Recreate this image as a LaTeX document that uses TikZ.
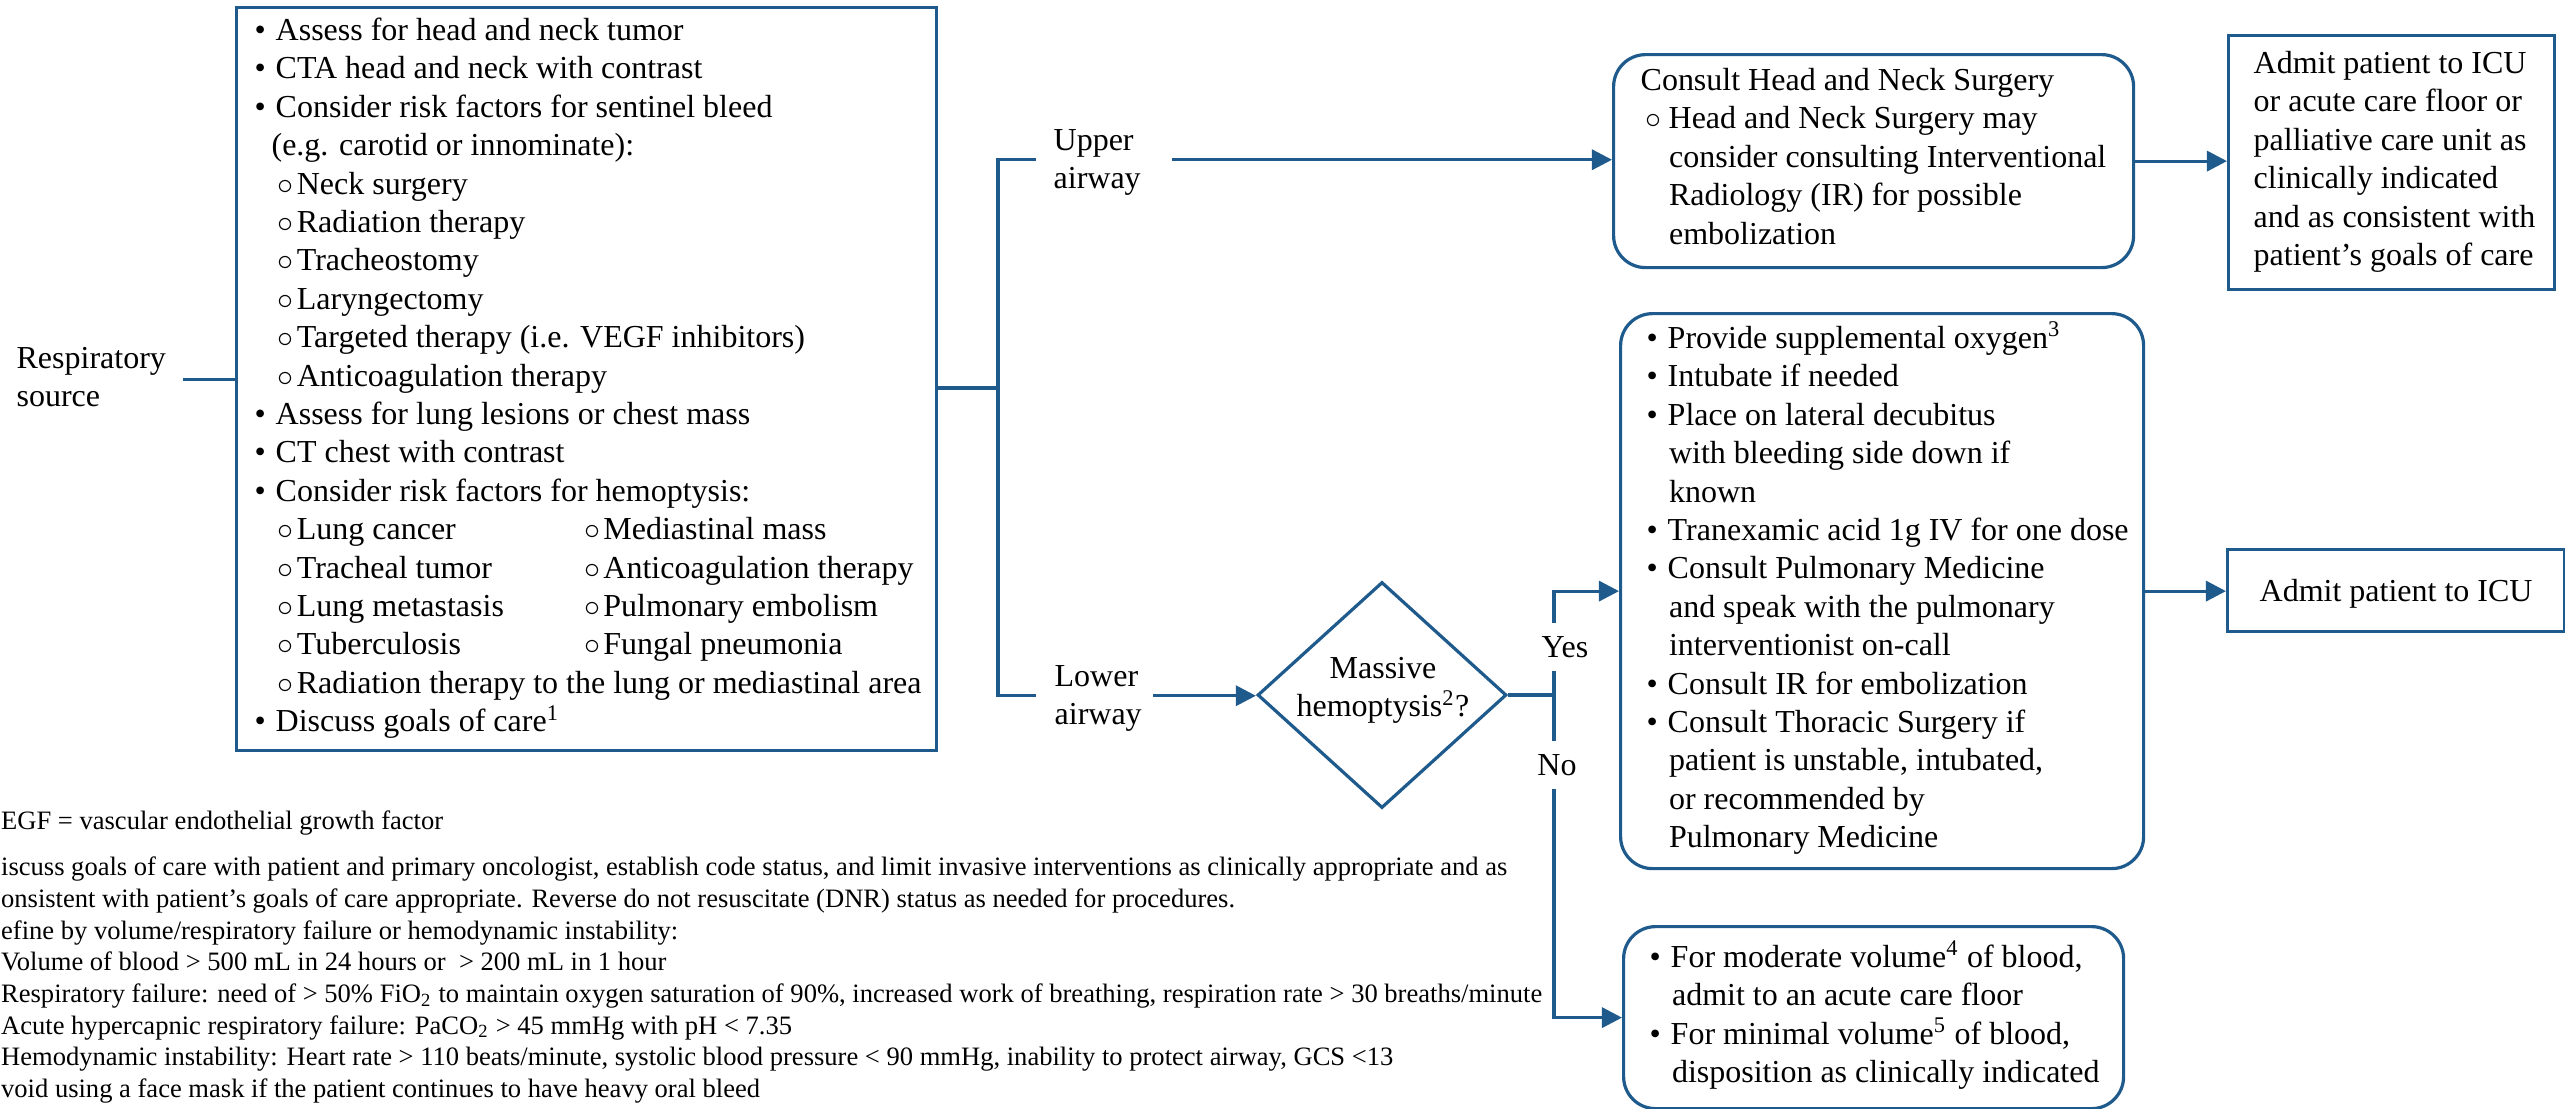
\documentclass[tikz,border=0pt]{standalone}
\usepackage{fontspec}
\setmainfont{Liberation Serif}
\usetikzlibrary{arrows.meta,shapes.geometric}
\definecolor{flowblue}{RGB}{31,90,140}
\newcommand{\bul}{\makebox[6.6pt][l]{\textbullet}}
\newcommand{\hol}{\makebox[6pt][l]{$\circ$}}
\newcommand{\fnm}[1]{\smash{\textsuperscript{#1}}}
\tikzset{
  box/.style={draw=flowblue, line width=1pt, anchor=north west, inner sep=0pt, font=\fontsize{10}{12}\selectfont},
  rbox/.style={box, rounded corners=10pt},
  txt/.style={anchor=north west, inner sep=0pt, align=left, font=\fontsize{10}{12}\selectfont},
  lab/.style={anchor=base, inner xsep=0pt, inner ysep=4pt, font=\fontsize{10}{12}\selectfont},
  conn/.style={draw=flowblue, line width=1pt},
  arr/.style={conn, -{Triangle[length=6.3pt,width=6.3pt]}}
}
\begin{document}
\begin{tikzpicture}[x=0.3125pt, y=-0.3125pt]
\useasboundingbox (0,0) rectangle (2565,1108);
\node[box, minimum width=218.75pt, minimum height=232.19pt] (workup) at (235,6) {};
\node[rbox, minimum width=162.5pt, minimum height=66.56pt] (consult) at (1612,53) {};
\node[box, minimum width=101.88pt, minimum height=79.38pt] (admitA) at (2227,34) {};
\node[rbox, minimum width=163.44pt, minimum height=173.44pt] (massive) at (1619,312) {};
\node[box, minimum width=105.31pt, minimum height=25.63pt, text depth=0pt] (icu) at (2226,548) {Admit patient to ICU};
\node[rbox, minimum width=156.25pt, minimum height=56.88pt] (disp) at (1622,925) {};
\node[diamond, draw=flowblue, line width=1pt, inner sep=0pt, minimum width=77.81pt, minimum height=70.63pt] (dia) at (1382,695) {};

\node[txt] (resp) at (16,341) {\strut Respiratory\\source};
\node[txt] (workupT) at (254,13) {\strut\bul Assess for head and neck tumor\\
\bul CTA head and neck with contrast\\
\bul Consider risk factors for sentinel bleed\\
\hspace*{5.3pt}(e.g. carotid or innominate):\\
\hspace*{7.2pt}\hol Neck surgery\\
\hspace*{7.2pt}\hol Radiation therapy\\
\hspace*{7.2pt}\hol Tracheostomy\\
\hspace*{7.2pt}\hol Laryngectomy\\
\hspace*{7.2pt}\hol Targeted therapy (i.e. VEGF inhibitors)\\
\hspace*{7.2pt}\hol Anticoagulation therapy\\
\bul Assess for lung lesions or chest mass\\
\bul CT chest with contrast\\
\bul Consider risk factors for hemoptysis:\\
\makebox[103pt][l]{\hspace*{7.2pt}\hol Lung cancer}\hol Mediastinal mass\\
\makebox[103pt][l]{\hspace*{7.2pt}\hol Tracheal tumor}\hol Anticoagulation therapy\\
\makebox[103pt][l]{\hspace*{7.2pt}\hol Lung metastasis}\hol Pulmonary embolism\\
\makebox[103pt][l]{\hspace*{7.2pt}\hol Tuberculosis}\hol Fungal pneumonia\\
\hspace*{7.2pt}\hol Radiation therapy to the lung or mediastinal area\\
\bul Discuss goals of care\fnm{1}};
\node[txt] (upper) at (1053,123) {\strut Upper\\airway};
\node[txt] (lower) at (1054,659) {\strut Lower\\airway};
\node[txt, anchor=north, align=center] (diaT) at (1383,651) {\strut Massive\\hemoptysis\fnm{2}?};
\node[lab] (yes) at (1565,657) {Yes};
\node[lab] (no) at (1557,775) {No};
\node[txt] (consultT) at (1640,63) {\strut Consult Head and Neck Surgery\\
\hspace*{1.4pt}\makebox[7.35pt][l]{$\circ$}Head and Neck Surgery may\\
\hspace*{8.9pt}consider consulting Interventional\\
\hspace*{8.9pt}Radiology (IR) for possible\\
\hspace*{8.9pt}embolization};
\node[txt] (admitT) at (2253,46) {\strut Admit patient to ICU\\or acute care floor or\\palliative care unit as\\clinically indicated\\and as consistent with\\patient’s goals of care};
\node[txt] (massiveT) at (1646,321) {\strut\bul Provide supplemental oxygen\fnm{3}\\
\bul Intubate if needed\\
\bul Place on lateral decubitus\\
\hspace*{7pt}with bleeding side down if\\
\hspace*{7pt}known\\
\bul Tranexamic acid 1g IV for one dose\\
\bul Consult Pulmonary Medicine\\
\hspace*{7pt}and speak with the pulmonary\\
\hspace*{7pt}interventionist on-call\\
\bul Consult IR for embolization\\
\bul Consult Thoracic Surgery if\\
\hspace*{7pt}patient is unstable, intubated,\\
\hspace*{7pt}or recommended by\\
\hspace*{7pt}Pulmonary Medicine};
\node[txt] (dispT) at (1649,940) {\strut\bul For moderate volume\fnm{4} of blood,\\
\hspace*{7pt}admit to an acute care floor\\
\bul For minimal volume\fnm{5} of blood,\\
\hspace*{7pt}disposition as clinically indicated};
\node[txt, font=\fontsize{8.3}{9.9}\selectfont] (notes) at (0.5,807) {\strut EGF = vascular endothelial growth factor\\[4.48pt]
iscuss goals of care with patient and primary oncologist, establish code status, and limit invasive interventions as clinically appropriate and as\\
onsistent with patient’s goals of care appropriate. Reverse do not resuscitate (DNR) status as needed for procedures.\\
efine by volume/respiratory failure or hemodynamic instability:\\
Volume of blood > 500 mL in 24 hours or\ \ > 200 mL in 1 hour\\
Respiratory failure: need of > 50\% FiO\textsubscript{2} to maintain oxygen saturation of 90\%, increased work of breathing, respiration rate > 30 breaths/minute\\
Acute hypercapnic respiratory failure: PaCO\textsubscript{2} > 45 mmHg with pH < 7.35\\
Hemodynamic instability: Heart rate > 110 beats/minute, systolic blood pressure < 90 mmHg, inability to protect airway, GCS <13\\
void using a face mask if the patient continues to have heavy oral bleed};

\coordinate (split) at (998,388);
\coordinate (jn) at (1554,695);
\draw[conn] ([xshift=5pt]resp.east |- workup.west) -- (workup.west);
\draw[conn] (workup.east |- split) -- (split);
\draw[conn] ([xshift=-5.3pt]upper.west) -| (split) |- ([xshift=-5.6pt]lower.west);
\draw[arr] ([xshift=9.7pt]upper.east) -- (upper.east -| consult.west);
\draw[arr] (consult.east) -- (consult.east -| admitA.west);
\draw[arr] ([xshift=3.4pt]lower.east) -- (lower.east -| dia.west);
\draw[conn] (dia.east) -- (jn);
\draw[conn] (jn) -- (jn |- yes.south);
\draw[arr] (jn |- yes.north) |- (massive.west);
\draw[conn] (jn) -- (jn |- no.north);
\draw[arr] (jn |- no.south) |- (disp.west);
\draw[arr] (massive.east) -- (massive.east -| icu.west);
\end{tikzpicture}
\end{document}
